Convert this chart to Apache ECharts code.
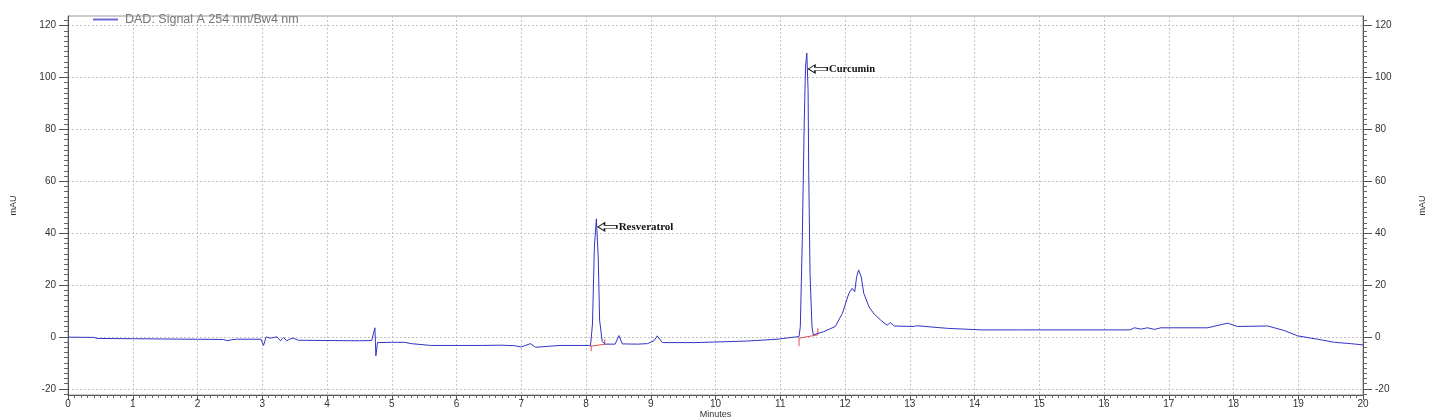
<!DOCTYPE html>
<html>
<head>
<meta charset="utf-8">
<script src="https://cdn.jsdelivr.net/npm/echarts@6/dist/echarts.min.js"></script>
<style>html,body{margin:0;padding:0;background:#fff;}#c{width:1430px;height:419px;}</style>
</head>
<body>
<div id="c"></div>
<script>
// Retention time (minutes) and detector signal (mAU)
const times = [0.00,0.40,0.45,1.00,1.90,2.00,2.40,2.47,2.52,2.60,2.98,3.02,3.06,3.12,3.18,3.23,3.28,3.33,3.38,3.43,3.48,3.56,4.00,4.50,4.69,4.72,4.74,4.755,4.78,5.00,5.20,5.30,5.60,6.40,6.70,6.90,7.00,7.14,7.22,7.60,8.07,8.10,8.13,8.16,8.19,8.21,8.25,8.30,8.45,8.51,8.56,8.80,8.95,9.05,9.10,9.18,9.67,9.97,10.49,10.95,11.21,11.29,11.31,11.34,11.37,11.39,11.41,11.43,11.44,11.46,11.49,11.51,11.67,11.85,11.96,12.06,12.11,12.15,12.18,12.21,12.25,12.29,12.37,12.45,12.55,12.65,12.70,12.76,13.06,13.11,13.14,13.58,14.10,14.68,14.71,14.75,16.40,16.47,16.57,16.67,16.78,16.88,17.60,17.91,18.06,18.53,18.79,18.99,19.30,19.56,19.81,20.00];
const signal = [-0.1,-0.2,-0.6,-0.7,-0.9,-0.9,-1.0,-1.5,-1.1,-0.9,-0.9,-3.3,0.0,-0.5,-0.2,0.0,-1.5,-0.3,-1.5,-0.8,-0.5,-1.3,-1.4,-1.5,-1.4,-1.2,3.5,-7.3,-2.2,-2.1,-2.1,-2.6,-3.3,-3.3,-3.2,-3.4,-3.9,-2.6,-4.0,-3.3,-3.3,5,35,45.5,30,6.5,-1.8,-2.8,-2.8,0.5,-2.7,-2.8,-2.6,-1.5,0.4,-2.2,-2.2,-2.0,-1.6,-0.9,-0.1,0.1,4,37,82,104,109.4,95,63,24.5,4,0.8,2.0,4.0,9.1,16.8,18.7,17.4,23.2,25.8,23.2,16.8,11.6,8.8,6.5,4.5,5.5,4.2,4.0,4.3,3.9,3.3,2.7,2.7,3.3,2.7,2.7,3.5,3.0,3.5,2.9,3.5,3.5,5.3,4.0,4.2,2.4,0.4,-0.9,-2.1,-2.6,-3.1];

// Integration baseline marks (red), null separates segments
const baseX = [8.07,8.30,null,8.08,8.08,null,8.29,8.29,null,11.29,11.58,null,11.29,11.29,null,11.58,11.58];
const baseY = [-3.6,-2.8,null,-3.4,-5.5,null,-0.9,-3.1,null,-0.5,0.8,null,-0.3,-3.6,null,0.8,3.3];

// Peak annotations
const peakNames = ['Resveratrol','Curcumin'];
const peakArrowT = [8.33,11.58];
const peakArrowV = [42.4,103.3];

const yTicks = [-20,0,20,40,60,80,100,120];
const seriesName = 'DAD: Signal A 254 nm/Bw4 nm';

const arrowPath = 'path://M0,5 L7,0 L7,3 L20,3 L20,7 L7,7 L7,10 Z';

function yAxisCfg(pos){
  return {
    type:'value', position:pos, min:-22.4, max:123.7, splitNumber:7,
    name:'mAU', nameLocation:'middle', nameRotate:90, nameGap: pos==='left'?50:55,
    nameMoveOverlap:false,
    nameTextStyle:{fontFamily:'Liberation Sans', fontSize:9, color:'#333'},
    axisLine:{show:true, lineStyle:{color:'#555', width:1}},
    axisTick:{show:true, inside:false, length:9, customValues:yTicks, lineStyle:{color:'#555'}},
    minorTick:{show:true, splitNumber:10, length:4, lineStyle:{color:'#666'}},
    axisLabel:{customValues:yTicks, margin:12, fontFamily:'Liberation Sans', fontSize:10, color:'#333'},
    splitLine:{show: pos==='left', lineStyle:{color:'#c4c4c4', type:[2,2], width:1}},
    minorSplitLine:{show:false}
  };
}

const chart = echarts.init(document.getElementById('c'), null, {renderer:'canvas'});
chart.setOption({
  animation:false,
  backgroundColor:'#fff',
  grid:{left:68, right:67, top:16, bottom:24, show:true, borderColor:'#999', borderWidth:1,
        containLabel:false, outerBoundsMode:'none'},
  legend:{
    show:true, left:93, top:13, padding:0, itemWidth:25, itemHeight:2, itemGap:10, icon:'rect',
    data:[seriesName],
    itemStyle:{color:'#6a6ad6'},
    textStyle:{fontFamily:'Liberation Sans', fontSize:12.5, color:'#777', padding:[0,0,0,2]}
  },
  xAxis:{
    type:'value', min:0, max:20, interval:1,
    name:'Minutes', nameLocation:'middle', nameGap:15, nameMoveOverlap:false,
    nameTextStyle:{fontFamily:'Liberation Sans', fontSize:9, color:'#333'},
    axisLine:{show:true, onZero:false, lineStyle:{color:'#555'}},
    axisTick:{show:true, length:5, lineStyle:{color:'#555'}},
    minorTick:{show:true, splitNumber:10, length:3, lineStyle:{color:'#666'}},
    axisLabel:{margin:4, fontFamily:'Liberation Sans', fontSize:10, color:'#333'},
    splitLine:{show:true, lineStyle:{color:'#c4c4c4', type:[2,2], width:1}}
  },
  yAxis:[yAxisCfg('left'), yAxisCfg('right')],
  series:[
    {
      name:seriesName, type:'line', symbol:'none', sampling:null,
      data: times.map((t,i)=>[t, signal[i]]),
      lineStyle:{color:'#3434c4', width:1}, itemStyle:{color:'#3434c4'},
      z:3,
      markPoint:{
        symbol:arrowPath, symbolSize:[19,8], symbolKeepAspect:false,
        itemStyle:{color:'#fff', borderColor:'#111', borderWidth:1},
        data: peakNames.map((n,i)=>({
          coord:[peakArrowT[i], peakArrowV[i]], name:n,
          label:{show:true, position:'right', distance:1, formatter:n,
            fontFamily:'Liberation Serif', fontWeight:'bold', fontSize:i===0?11:10.5, color:'#111'}
        }))
      }
    },
    {
      name:'baseline', type:'line', symbol:'none', connectNulls:false,
      data: baseX.map((t,i)=> t===null ? [null,null] : [t, baseY[i]]),
      lineStyle:{color:'#e05050', width:1}, itemStyle:{color:'#e05050'}, z:2
    }
  ]
});
</script>
</body>
</html>
